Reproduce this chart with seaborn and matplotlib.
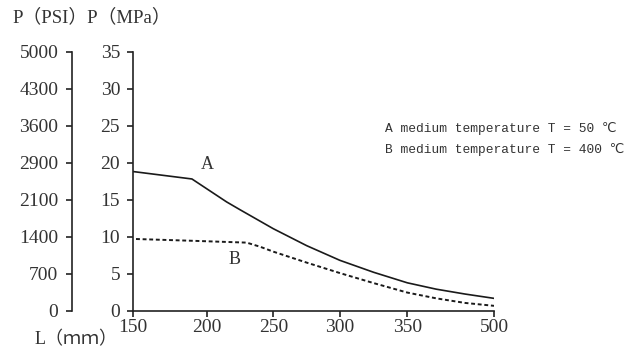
import numpy as np
import pandas as pd
import matplotlib
matplotlib.use("Agg")
import matplotlib.pyplot as plt
import seaborn as sns

# ticks on the L axis (uneven spacing in the original drawing)
x_ticks = [150, 200, 250, 300, 350, 500]
x_tick_spacing = [0, 73.3, 140, 206.7, 274, 360.7]

mpa_ticks = [0, 5, 10, 15, 20, 25, 30, 35]
psi_labels = ["0", "700", "1400", "2100", "2900", "3600", "4300", "5000"]

# curve A: medium temperature 50 C
a_len = [150, 190, 215, 225, 250, 275, 300, 325, 350, 400, 450, 500]
a_p = [18.8, 17.8, 14.7, 13.65, 11.08, 8.79, 6.8, 5.19, 3.77, 2.91, 2.25, 1.67]

# curve B: medium temperature 400 C
b_len = [150, 190, 230, 240, 250, 275, 300, 325, 350, 400, 450, 500]
b_p = [9.7, 9.45, 9.2, 8.65, 7.98, 6.5, 5.08, 3.73, 2.45, 1.67, 1.05, 0.66]

df_a = pd.DataFrame({"L": a_len, "P": a_p})
df_b = pd.DataFrame({"L": b_len, "P": b_p})

sns.set_style("ticks")
serif = ["Liberation Serif", "Noto Sans CJK SC"]
mono = ["Liberation Mono", "DejaVu Sans"]
plt.rcParams["font.family"] = serif
plt.rcParams["axes.linewidth"] = 1.2
plt.rcParams["axes.edgecolor"] = "#222222"

fig = plt.figure(figsize=(6.27, 3.54), dpi=100)
ax = fig.add_axes([0.2126, 0.1223, 0.5753, 0.7317])

fwd = lambda v: np.interp(v, x_ticks, x_tick_spacing)
inv = lambda v: np.interp(v, x_tick_spacing, x_ticks)
ax.set_xscale("function", functions=(fwd, inv))

sns.lineplot(data=df_a, x="L", y="P", ax=ax, color="#1a1a1a", lw=1.2)
sns.lineplot(data=df_b, x="L", y="P", ax=ax, color="#1a1a1a", lw=1.4,
             linestyle=(2, (2, 1.4)))

ax.set_xlim(150, 500)
ax.set_ylim(0, 35)
ax.set_xticks(x_ticks)
ax.set_xticklabels([str(v) for v in x_ticks])
ax.minorticks_off()
ax.set_yticks(mpa_ticks)
ax.set_xlabel("")
ax.set_ylabel("")
sns.despine(ax=ax)

ax.tick_params(axis="both", direction="out", length=4, width=1.2,
               colors="#222222", labelsize=14, labelcolor="#333333")
ax.tick_params(axis="y", pad=5.5)
ax.tick_params(axis="x", pad=2)

# PSI scale drawn as a second spine to the left
sec = ax.secondary_yaxis(-0.169)
sec.set_yticks(mpa_ticks, labels=psi_labels)
sec.spines["left"].set_linewidth(1.2)
sec.spines["left"].set_color("#222222")
sec.tick_params(direction="out", length=4, width=1.2, colors="#222222",
                labelsize=14, labelcolor="#333333", pad=6)

ax.text(200.5, 19.7, "A", fontsize=13, ha="center", va="center", color="#333333")
ax.text(221, 6.9, "B", fontsize=13, ha="center", va="center", color="#333333")

fig.text(0.614, 0.6356, "A medium temperature T = 50 ℃", family=mono,
         fontsize=9.3, ha="left", va="center", color="#333333")
fig.text(0.614, 0.579, "B medium temperature T = 400 ℃", family=mono,
         fontsize=9.3, ha="left", va="center", color="#333333")

fig.text(12 / 627, 1 - 17 / 354, "P（PSI）P（MPa）", fontsize=13.5,
         ha="left", va="center", color="#333333")
fig.text(35 / 627, 1 - 340 / 354, "L（ｍｍ）", fontsize=13,
         ha="left", va="center", color="#333333")

fig.savefig("out.png", dpi=100, facecolor="white")
